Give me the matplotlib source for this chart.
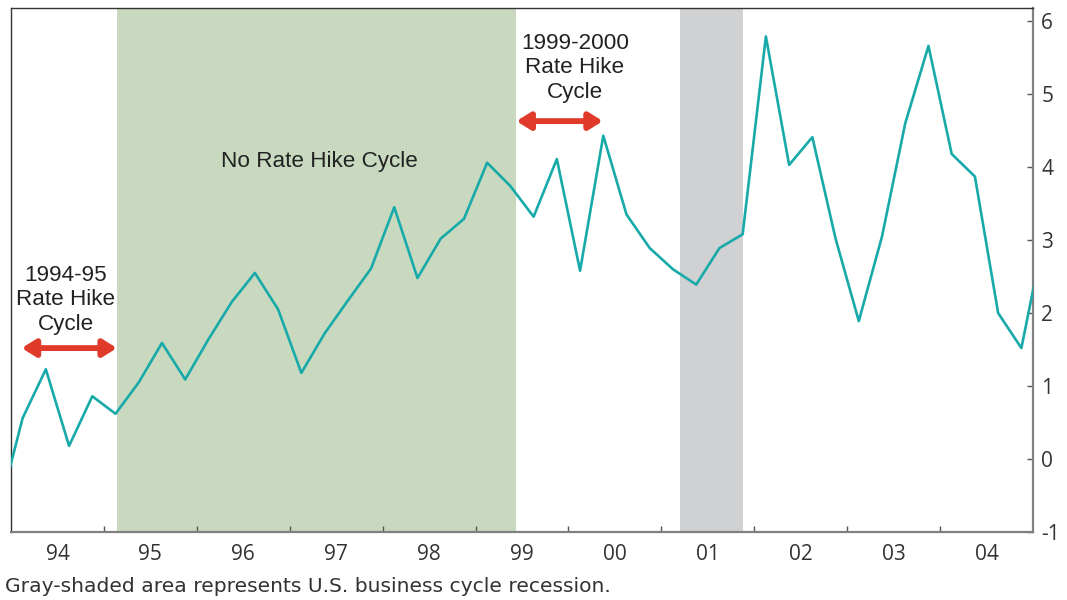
import numpy as np
import matplotlib
matplotlib.use("Agg")
import matplotlib.pyplot as plt

# quarterly values, plotted at mid-quarter (1993 Q4 .. 2005 Q1)
start_year = 1993.875
values = [-0.68,
          0.56, 1.23, 0.18, 0.86,
          0.62, 1.05, 1.59, 1.09,
          1.64, 2.15, 2.55, 2.05,
          1.18, 1.72, 2.17, 2.61,
          3.45, 2.48, 3.02, 3.29,
          4.06, 3.74, 3.32, 4.11,
          2.58, 4.43, 3.35, 2.89,
          2.60, 2.39, 2.89, 3.08,
          5.79, 4.03, 4.41, 3.02,
          1.89, 3.05, 4.60, 5.66,
          4.18, 3.87, 2.00, 1.52,
          3.10]
years = list(range(1994, 2005))
year_labels = ["94", "95", "96", "97", "98", "99", "00", "01", "02", "03", "04"]
y_ticks = [-1, 0, 1, 2, 3, 4, 5, 6]

no_hike = (1995.14, 1999.44)
recession = (2001.20, 2001.88)
hike1 = (1994.115, 1995.14, 1.52)
hike2 = (1999.44, 2000.37, 4.63)

x = start_year + 0.25 * np.arange(len(values))

fig = plt.figure(figsize=(10.67, 6.0), dpi=100)
ax = fig.add_axes([11 / 1067, 1 - 532 / 600, (1033 - 11) / 1067, (532 - 8) / 600])

ax.axvspan(*no_hike, color="#c8d9bf", lw=0, zorder=0)
ax.axvspan(*recession, color="#d0d1d3", lw=0, zorder=0)
ax.plot(x, values, color="#17aaa9", lw=1.9, zorder=3)

ax.set_xlim(1994, 2005)
ax.set_ylim(-1, 6.18)

# year boundaries get tick marks, labels sit mid-year
ax.set_xticks(years[1:])
ax.set_xticklabels([])
ax.set_xticks([y + 0.5 for y in years], minor=True)
ax.set_xticklabels(year_labels, minor=True)
ax.tick_params(axis="x", which="major", direction="in", length=4.5, width=1, color="#555555")
ax.tick_params(axis="x", which="minor", length=0, pad=9, labelsize=15, labelcolor="#333333")

ax.yaxis.tick_right()
ax.set_yticks(y_ticks)
ax.set_yticklabels([str(v) for v in y_ticks])
ax.tick_params(axis="y", direction="in", length=4.5, width=1, color="#555555",
               pad=6, labelsize=15, labelcolor="#333333")

for lab in ax.get_xticklabels(minor=True) + ax.get_yticklabels():
    lab.set_family("Open Sans")

ax.spines["left"].set_color("#333333")
ax.spines["top"].set_color("#333333")
ax.spines["left"].set_linewidth(1.0)
ax.spines["top"].set_linewidth(1.0)
ax.spines["right"].set_color("#808080")
ax.spines["bottom"].set_color("#808080")
ax.spines["right"].set_linewidth(1.6)
ax.spines["bottom"].set_linewidth(1.6)

txt = dict(family="Liberation Sans", fontsize=16.2, color="#222222",
           ha="center", va="center", linespacing=1.2)
ax.text(1997.32, 4.08, "No Rate Hike Cycle", **txt)
ax.text(1994.59, 2.18, "1994-95\nRate Hike\nCycle", **txt)
ax.text(2000.07, 5.36, "1999-2000\nRate Hike\nCycle", **txt)

arrow = dict(arrowstyle="<|-|>,head_length=0.8,head_width=0.5",
             color="#e03a2a", lw=4.2, shrinkA=0, shrinkB=0)
for x0, x1, yv in [hike1, hike2]:
    ax.annotate("", xy=(x1, yv), xytext=(x0, yv), arrowprops=arrow, zorder=4)

fig.text(5 / 1067, 1 - 587 / 600, "Gray-shaded area represents U.S. business cycle recession.",
         family="DejaVu Sans", fontsize=14.6, color="#333333", ha="left", va="center")

fig.savefig("out.png", dpi=100)
